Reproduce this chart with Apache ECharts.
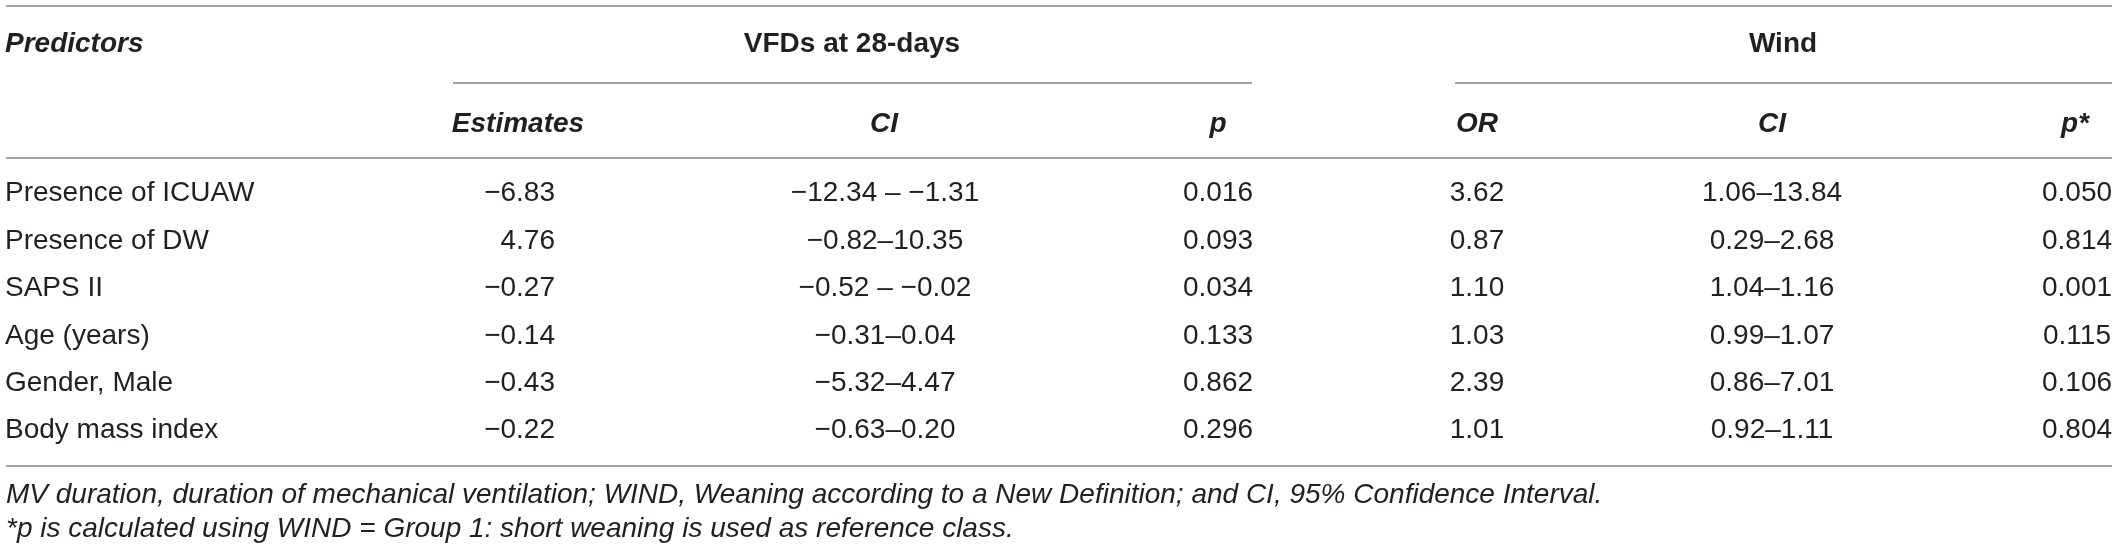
<!DOCTYPE html>
<html>
<head>
<meta charset="utf-8">
<script src="https://cdn.jsdelivr.net/npm/echarts@6/dist/echarts.min.js"></script>
<style>
  html, body { margin: 0; padding: 0; background: #ffffff; }
  #chart { width: 2118px; height: 552px; }
</style>
</head>
<body>
<div id="chart"></div>
<script>
// ---------------- data ----------------
const predictors = ['Presence of ICUAW', 'Presence of DW', 'SAPS II', 'Age (years)', 'Gender, Male', 'Body mass index'];
const vfdEstimates = [-6.83, 4.76, -0.27, -0.14, -0.43, -0.22];
const vfdCILow  = [-12.34, -0.82, -0.52, -0.31, -5.32, -0.63];
const vfdCIHigh = [-1.31, 10.35, -0.02, 0.04, 4.47, 0.20];
const vfdP = ['0.016', '0.093', '0.034', '0.133', '0.862', '0.296'];
const windOR = [3.62, 0.87, 1.10, 1.03, 2.39, 1.01];
const windCILow  = [1.06, 0.29, 1.04, 0.99, 0.86, 0.92];
const windCIHigh = [13.84, 2.68, 1.16, 1.07, 7.01, 1.11];
const windP = ['0.050', '0.814', '0.001', '0.115', '0.106', '0.804'];

const groupHeaders = ['VFDs at 28-days', 'Wind'];
const columnHeaders = ['Predictors', 'Estimates', 'CI', 'p', 'OR', 'CI', 'p*'];
const footnotes = [
  'MV duration, duration of mechanical ventilation; WIND, Weaning according to a New Definition; and CI, 95% Confidence Interval.',
  '*p is calculated using WIND = Group 1: short weaning is used as reference class.'
];

// ---------------- formatting ----------------
function num(v) { return (v < 0 ? '\u2212' : '') + Math.abs(v).toFixed(2); }
function ci(lo, hi) { return num(lo) + (hi < 0 ? ' \u2013 ' : '\u2013') + num(hi); }

const columns = [
  predictors,
  vfdEstimates.map(num),
  vfdCILow.map((lo, i) => ci(lo, vfdCIHigh[i])),
  vfdP,
  windOR.map(num),
  windCILow.map((lo, i) => ci(lo, windCIHigh[i])),
  windP
];

// ---------------- layout (style only) ----------------
const W = 2118;
const colX     = [5, 555, 885, 1218, 1477, 1772, 2077];
const colAlign = ['left', 'right', 'center', 'center', 'center', 'center', 'center'];
const headX    = [5, 518, 884, 1218, 1477, 1772, 2075];
const headAlign = ['left', 'center', 'center', 'center', 'center', 'center', 'center'];
const groupX = [852, 1783];
const FONT = "'Liberation Sans', Arial, Helvetica, sans-serif";
const TEXT = '#231f20';
const RULE = '#a3a3a3';

const cellData = [];
columns.forEach((col, c) => col.forEach((_, r) => cellData.push([c, r])));

const chart = echarts.init(document.getElementById('chart'), null, { renderer: 'canvas' });

function hline(x1, x2, y) {
  return { type: 'line', shape: { x1: x1, y1: y, x2: x2, y2: y }, style: { stroke: RULE, lineWidth: 2 }, silent: true };
}
function txt(x, y, text, align, weight, style, size) {
  return {
    type: 'text', x: x, y: y, silent: true,
    style: {
      text: text, fill: TEXT, align: align, verticalAlign: 'middle',
      font: (style || 'normal') + ' ' + (weight || 'normal') + ' ' + (size || 28) + 'px ' + FONT
    }
  };
}

const graphics = [
  hline(6, 2112, 6),
  hline(453, 1252, 83),
  hline(1455, 2112, 83),
  hline(6, 2112, 158),
  hline(6, 2112, 466),
  txt(headX[0], 44, columnHeaders[0], 'left', 'bold', 'italic'),
  txt(groupX[0], 44, groupHeaders[0], 'center', 'bold', 'normal'),
  txt(groupX[1], 44, groupHeaders[1], 'center', 'bold', 'normal')
];
for (let c = 1; c < columnHeaders.length; c++) {
  graphics.push(txt(headX[c], 124, columnHeaders[c], headAlign[c], 'bold', 'italic'));
}
graphics.push(txt(6, 495, footnotes[0], 'left', 'normal', 'italic', 28));
graphics.push(txt(6, 529, footnotes[1], 'left', 'normal', 'italic', 28));

chart.setOption({
  backgroundColor: '#ffffff',
  animation: false,
  grid: { left: 0, right: 0, top: 170, height: 284.4 },
  xAxis: { type: 'value', min: 0, max: W, show: false },
  yAxis: { type: 'category', data: predictors, inverse: true, show: false },
  graphic: graphics,
  series: [{
    type: 'custom',
    silent: true,
    encode: { x: 0, y: 1 },
    data: cellData,
    renderItem: function (params, api) {
      const c = api.value(0);
      const r = api.value(1);
      const p = api.coord([colX[c], r]);
      return {
        type: 'text',
        x: p[0], y: p[1],
        style: {
          text: columns[c][r],
          fill: TEXT,
          align: colAlign[c],
          verticalAlign: 'middle',
          font: 'normal normal 28px ' + FONT
        }
      };
    }
  }]
});
</script>
</body>
</html>
